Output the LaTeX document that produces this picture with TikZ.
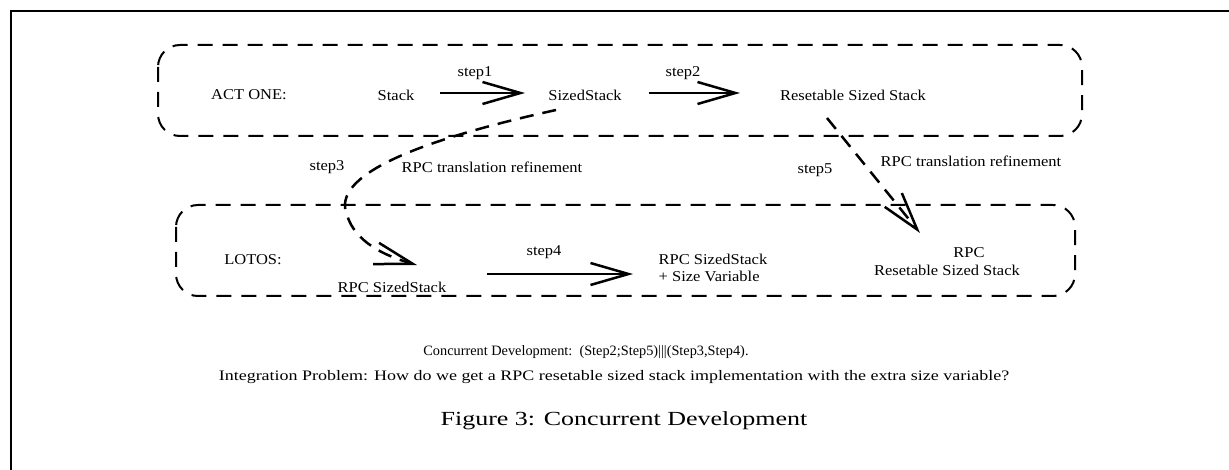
\documentclass[tikz,border=0pt]{standalone}
\usepackage{fontspec}
\setmainfont{Liberation Serif}
\newfontfamily\lblfont[FakeStretch=1.1]{Liberation Serif}
\newfontfamily\notefont[FakeStretch=1.24]{Liberation Serif}
\newfontfamily\capfont[FakeStretch=1.3]{Liberation Serif}
\usetikzlibrary{arrows.meta}
\begin{document}
\begin{tikzpicture}[x=1pt,y=-1pt,
  lbl/.style={font=\lblfont\fontsize{15}{17}\selectfont, inner sep=0pt},
  dashbox/.style={line width=2pt, dash pattern=on 15pt off 10pt, rounded corners=22pt},
  flow/.style={line width=2.5pt, -{Straight Barb[length=38pt,width=22pt,line width=2.5pt]}},
  dflow/.style={flow, dash pattern=on 14pt off 9pt}]
\useasboundingbox (0,0) rectangle (1229,470);
% page frame
\draw[line width=2.5pt] (11,470) -- (11,11) -- (1229,11);
% the two language layers
\draw[dashbox] (158,45) rectangle (1082,136);
\draw[dashbox] (176,205) rectangle (1075,296);
% ACT ONE layer
\node[lbl] (act) at (249,95) {ACT ONE:};
\node[lbl] (stack) at (396,95) {Stack};
\node[lbl] (sized) at (585,95) {SizedStack};
\node[lbl] (reset) at (853,95) {Resetable Sized Stack};
\node[lbl] (s1) at (475,73) {step1};
\node[lbl] (s2) at (683,73) {step2};
\coordinate (a1) at (440,93);
\coordinate (a1e) at (525,93);
\coordinate (a2) at (649,93);
\coordinate (a2e) at (740,93);
\draw[flow] (a1) -- (a1e);
\draw[flow] (a2) -- (a2e);
% LOTOS layer
\node[lbl] (lotos) at (253,260) {LOTOS:};
\node[lbl] (rpcs) at (392,287) {RPC SizedStack};
\node[lbl, align=left] (rpcv) at (713,268) {RPC SizedStack\\+ Size Variable};
\node[lbl] (rpcr1) at (969,253) {RPC};
\node[lbl] (rpcr2) at (947,270) {Resetable Sized Stack};
\node[lbl] (s4) at (544,252) {step4};
\coordinate (b1) at (487,274);
\coordinate (b2) at (633,274);
\draw[flow] (b1) -- (b2);
% translations between the layers
\node[lbl] (s3) at (327,167) {step3};
\node[lbl] (t3) at (492,167) {RPC translation refinement};
\node[lbl] (s5) at (815,170) {step5};
\node[lbl] (t5) at (971,161) {RPC translation refinement};
\coordinate (c3) at (556,110);
\coordinate (e3) at (417,265);
\draw[dflow] (c3) .. controls (420,140) and (330,175) .. (347,215)
  .. controls (355,242) and (385,256) .. (e3);
\coordinate (c5) at (827,118);
\coordinate (e5) at (920,233);
\draw[dflow] (c5) -- (e5);
% notes and caption
\node[font=\fontsize{14.3}{16}\selectfont, inner sep=0pt] (n1) at (586,352) {Concurrent Development:\ \ (Step2;Step5)|||(Step3,Step4).};
\node[font=\notefont\fontsize{14.5}{16}\selectfont, inner sep=0pt] (n2) at (614,377) {Integration Problem: How do we get a RPC resetable sized stack implementation with the extra size variable?};
\node[font=\capfont\fontsize{20}{24}\selectfont, inner sep=0pt] (cap) at (624,421) {Figure 3: Concurrent Development};
\end{tikzpicture}
\end{document}
